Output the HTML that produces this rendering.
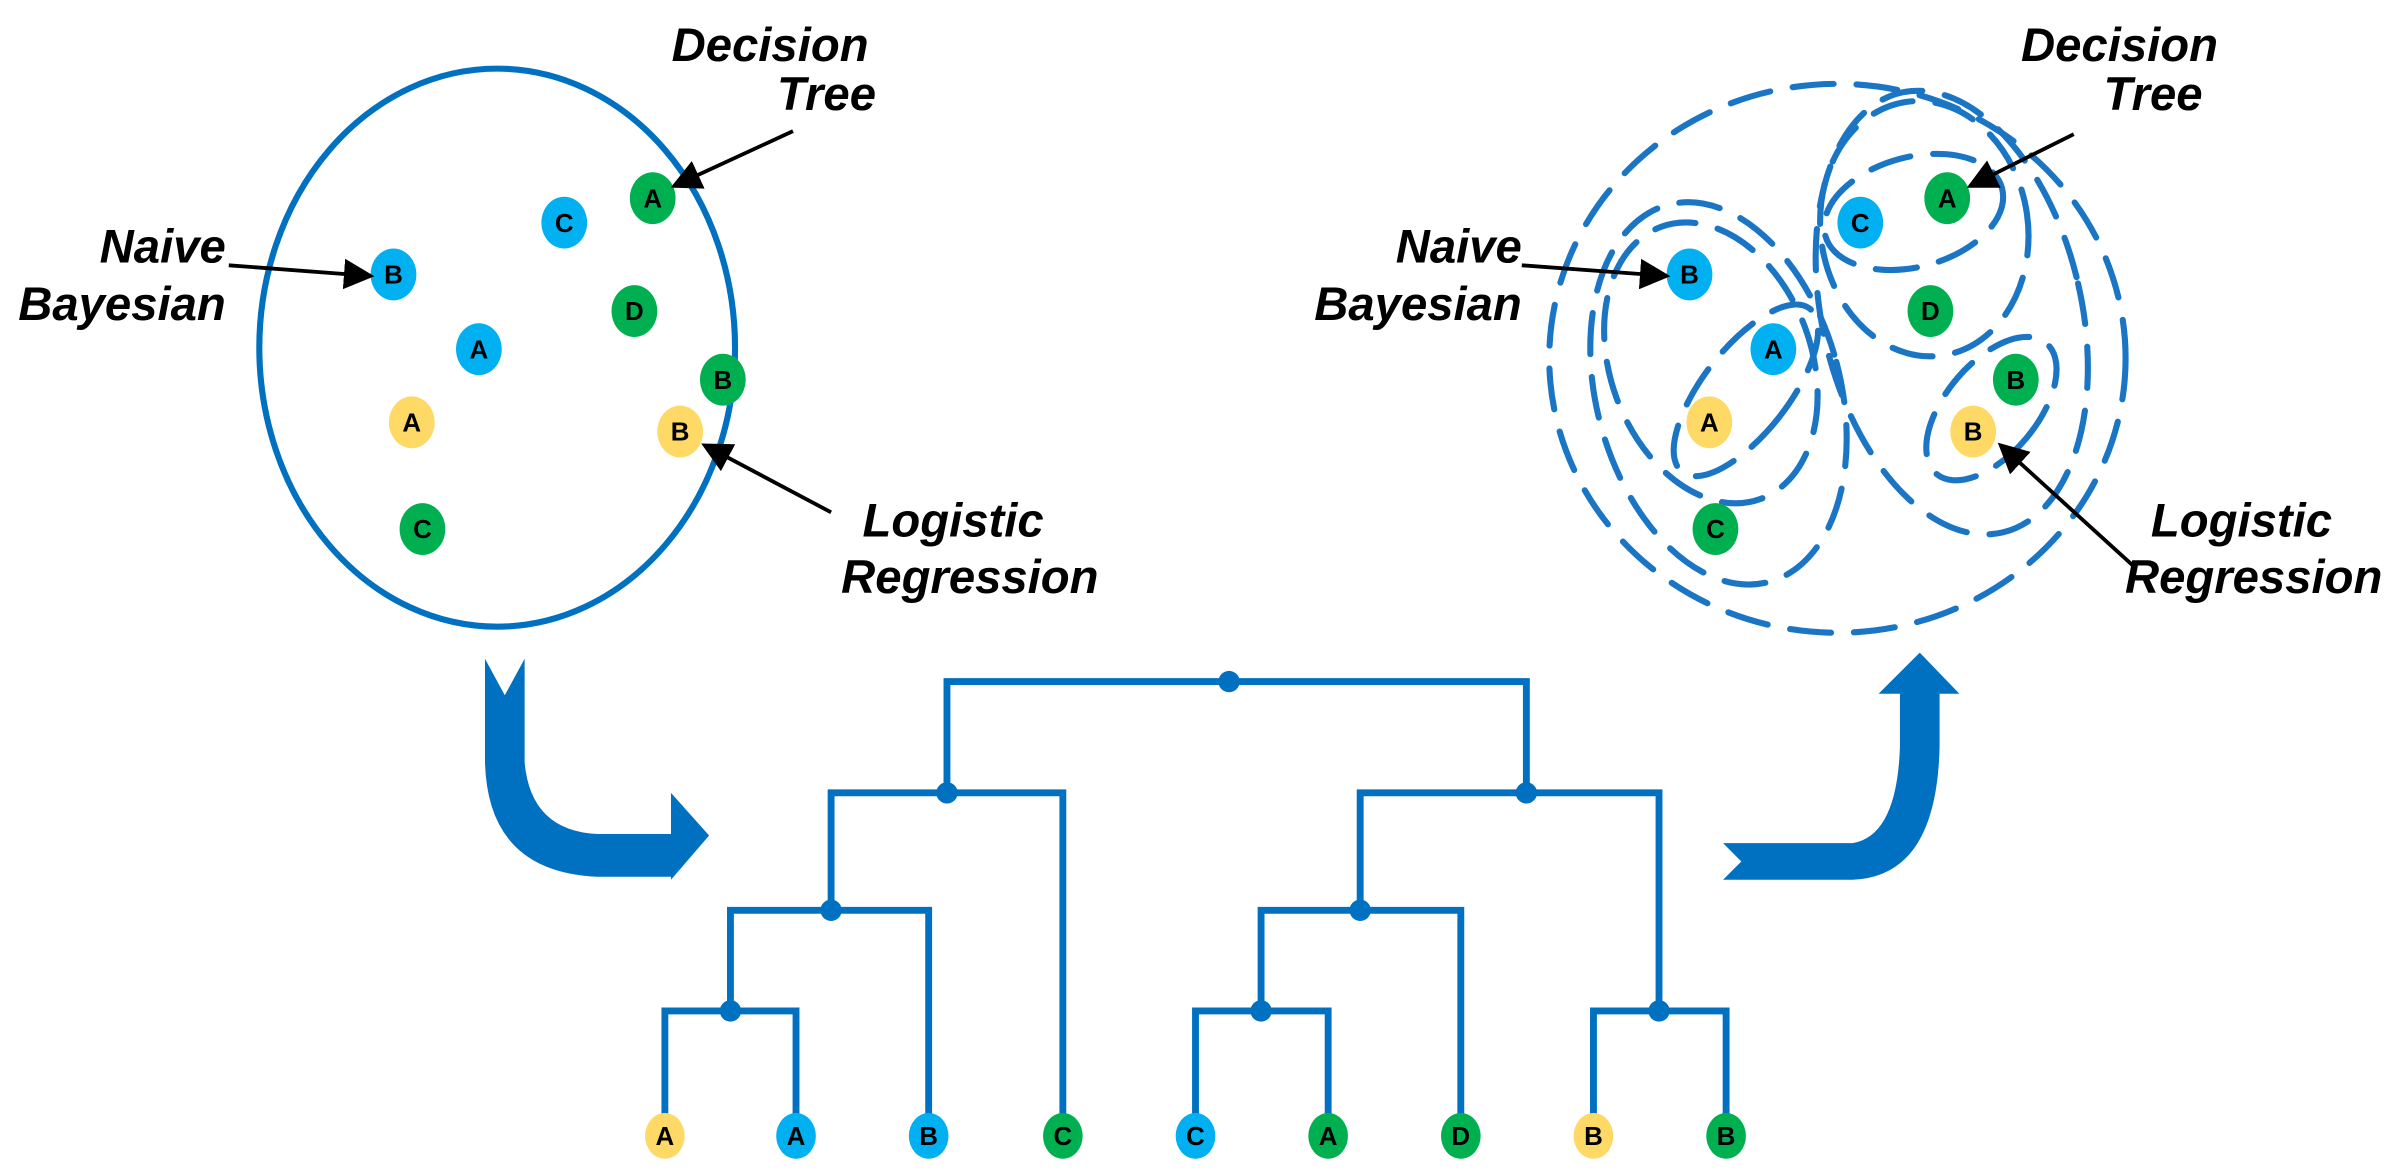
<!DOCTYPE html>
<html><head><meta charset="utf-8"><style>
html,body{margin:0;padding:0;background:#fff;}
svg{display:block;}
.lbl{font-family:"Liberation Sans",sans-serif;font-weight:bold;font-style:italic;font-size:31px;fill:#000;}
.n{font-family:"Liberation Sans",sans-serif;font-weight:bold;font-size:17px;fill:#000;text-anchor:middle;}
.d{fill:none;stroke:#1a75c4;stroke-width:4;stroke-dasharray:27 15;stroke-linecap:round;}
.t{fill:none;stroke:#0070C0;stroke-width:4.5;}
</style></head><body>
<svg width="2391" height="1171" viewBox="0 0 1568 768" xmlns="http://www.w3.org/2000/svg">
<defs>
<marker id="ah" markerWidth="8" markerHeight="8" refX="7" refY="4" orient="auto" markerUnits="strokeWidth">
<path d="M0,0 L8,4 L0,8 Z" fill="#000"/></marker>
</defs>

<!-- Left circle -->
<ellipse cx="326" cy="228" rx="156" ry="183" fill="none" stroke="#0070C0" stroke-width="4"/>

<g>
<ellipse cx="370" cy="146" rx="15" ry="17" fill="#00B0F0"/><text class="n" x="370" y="152">C</text>
<ellipse cx="428" cy="130" rx="15" ry="17" fill="#00B050"/><text class="n" x="428" y="136">A</text>
<ellipse cx="258" cy="180" rx="15" ry="17" fill="#00B0F0"/><text class="n" x="258" y="186">B</text>
<ellipse cx="416" cy="204" rx="15" ry="17" fill="#00B050"/><text class="n" x="416" y="210">D</text>
<ellipse cx="314" cy="229" rx="15" ry="17" fill="#00B0F0"/><text class="n" x="314" y="235">A</text>
<ellipse cx="474" cy="249" rx="15" ry="17" fill="#00B050"/><text class="n" x="474" y="255">B</text>
<ellipse cx="270" cy="277" rx="15" ry="17" fill="#FFD966"/><text class="n" x="270" y="283">A</text>
<ellipse cx="446" cy="283" rx="15" ry="17" fill="#FFD966"/><text class="n" x="446" y="289">B</text>
<ellipse cx="277" cy="347" rx="15" ry="17" fill="#00B050"/><text class="n" x="277" y="353">C</text>
</g>
<text class="lbl" x="505" y="40" text-anchor="middle">Decision</text>
<text class="lbl" x="542" y="72" text-anchor="middle">Tree</text>
<line x1="520" y1="86" x2="442" y2="122" stroke="#000" stroke-width="2.5" marker-end="url(#ah)"/>
<text class="lbl" x="148" y="172" text-anchor="end">Naive</text>
<text class="lbl" x="148" y="210" text-anchor="end">Bayesian</text>
<line x1="150" y1="174" x2="243" y2="181" stroke="#000" stroke-width="2.5" marker-end="url(#ah)"/>
<text class="lbl" x="625" y="352" text-anchor="middle">Logistic</text>
<text class="lbl" x="636" y="389" text-anchor="middle">Regression</text>
<line x1="545" y1="336" x2="462" y2="292" stroke="#000" stroke-width="2.5" marker-end="url(#ah)"/>

<!-- Right dashed ellipses -->
<ellipse class="d" cx="1205" cy="235" rx="189" ry="180"/>
<ellipse class="d" cx="1127" cy="258" rx="80" ry="128" transform="rotate(-15 1127 258)"/>
<ellipse class="d" cx="1122" cy="238" rx="66" ry="95" transform="rotate(-20 1122 238)"/>
<ellipse class="d" cx="1145" cy="256" rx="28" ry="68" transform="rotate(38 1145 256)"/>
<ellipse class="d" cx="1280" cy="205" rx="85" ry="148" transform="rotate(-13 1280 205)"/>
<ellipse class="d" cx="1262" cy="150" rx="68" ry="84" transform="rotate(-8 1262 150)"/>
<ellipse class="d" cx="1255" cy="139" rx="60" ry="36" transform="rotate(-15 1255 139)"/>
<ellipse class="d" cx="1306" cy="268" rx="30" ry="56" transform="rotate(40 1306 268)"/>

<g>
<ellipse cx="1220" cy="146" rx="15" ry="17" fill="#00B0F0"/><text class="n" x="1220" y="152">C</text>
<ellipse cx="1277" cy="130" rx="15" ry="17" fill="#00B050"/><text class="n" x="1277" y="136">A</text>
<ellipse cx="1108" cy="180" rx="15" ry="17" fill="#00B0F0"/><text class="n" x="1108" y="186">B</text>
<ellipse cx="1266" cy="204" rx="15" ry="17" fill="#00B050"/><text class="n" x="1266" y="210">D</text>
<ellipse cx="1163" cy="229" rx="15" ry="17" fill="#00B0F0"/><text class="n" x="1163" y="235">A</text>
<ellipse cx="1322" cy="249" rx="15" ry="17" fill="#00B050"/><text class="n" x="1322" y="255">B</text>
<ellipse cx="1121" cy="277" rx="15" ry="17" fill="#FFD966"/><text class="n" x="1121" y="283">A</text>
<ellipse cx="1294" cy="283" rx="15" ry="17" fill="#FFD966"/><text class="n" x="1294" y="289">B</text>
<ellipse cx="1125" cy="347" rx="15" ry="17" fill="#00B050"/><text class="n" x="1125" y="353">C</text>
</g>
<text class="lbl" x="1390" y="40" text-anchor="middle">Decision</text>
<text class="lbl" x="1412" y="72" text-anchor="middle">Tree</text>
<line x1="1360" y1="88" x2="1292" y2="122" stroke="#000" stroke-width="2.5" marker-end="url(#ah)"/>
<text class="lbl" x="998" y="172" text-anchor="end">Naive</text>
<text class="lbl" x="998" y="210" text-anchor="end">Bayesian</text>
<line x1="998" y1="174" x2="1093" y2="181" stroke="#000" stroke-width="2.5" marker-end="url(#ah)"/>
<text class="lbl" x="1470" y="352" text-anchor="middle">Logistic</text>
<text class="lbl" x="1478" y="389" text-anchor="middle">Regression</text>
<line x1="1400" y1="372" x2="1312" y2="292" stroke="#000" stroke-width="2.5" marker-end="url(#ah)"/>

<!-- Curved arrows -->
<path d="M318,432 L331,456 L344,432 L344,500 Q348,545 392,547 L440,547 L440,520 L465,548 L440,577 L440,575 L392,575 Q320,572 318,500 Z" fill="#0070C0"/>
<path d="M1130,577 L1142,565 L1130,553 L1215,553 Q1244,548 1246,490 L1246,455 L1232,455 L1259,428 L1285,455 L1272,455 L1272,490 Q1270,575 1215,577 Z" fill="#0070C0"/>

<!-- Dendrogram -->
<g class="t">
<path d="M436,745 V663 H522 V745"/>
<path d="M784,745 V663 H871 V745"/>
<path d="M1045,745 V663 H1132 V745"/>
<path d="M479,663 V597 H609 V745"/>
<path d="M827,663 V597 H958 V745"/>
<path d="M545,597 V520 H697 V745"/>
<path d="M892,597 V520 H1088 V663"/>
<path d="M621,520 V447 H1001 V520"/>
</g>
<g fill="#0070C0">
<circle cx="479" cy="663" r="7"/><circle cx="827" cy="663" r="7"/><circle cx="1088" cy="663" r="7"/>
<circle cx="545" cy="597" r="7"/><circle cx="892" cy="597" r="7"/>
<circle cx="621" cy="520" r="7"/><circle cx="1001" cy="520" r="7"/>
<circle cx="806" cy="447" r="7"/>
</g>
<g>
<ellipse cx="436" cy="745" rx="13" ry="15" fill="#FFD966"/><text class="n" x="436" y="751">A</text>
<ellipse cx="522" cy="745" rx="13" ry="15" fill="#00B0F0"/><text class="n" x="522" y="751">A</text>
<ellipse cx="609" cy="745" rx="13" ry="15" fill="#00B0F0"/><text class="n" x="609" y="751">B</text>
<ellipse cx="697" cy="745" rx="13" ry="15" fill="#00B050"/><text class="n" x="697" y="751">C</text>
<ellipse cx="784" cy="745" rx="13" ry="15" fill="#00B0F0"/><text class="n" x="784" y="751">C</text>
<ellipse cx="871" cy="745" rx="13" ry="15" fill="#00B050"/><text class="n" x="871" y="751">A</text>
<ellipse cx="958" cy="745" rx="13" ry="15" fill="#00B050"/><text class="n" x="958" y="751">D</text>
<ellipse cx="1045" cy="745" rx="13" ry="15" fill="#FFD966"/><text class="n" x="1045" y="751">B</text>
<ellipse cx="1132" cy="745" rx="13" ry="15" fill="#00B050"/><text class="n" x="1132" y="751">B</text>
</g>
</svg>
</body></html>
